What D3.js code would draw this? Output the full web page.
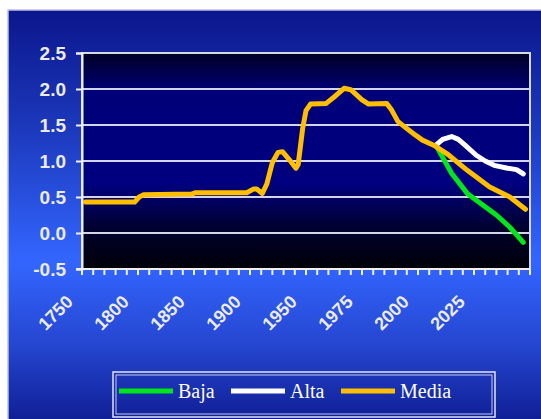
<!DOCTYPE html>
<html lang="es">
<head>
<meta charset="UTF-8">
<script src="https://cdn.jsdelivr.net/npm/d3@7"></script>
<style>
  body { margin: 0; background: #fff; }
  svg { display: block; }
  .ylab, .xlab { font-family: Arial, "Liberation Sans", sans-serif; font-weight: bold; fill: #ececec; }
  .leg { font-family: "Times New Roman", "Liberation Serif", serif; fill: #fff; font-size: 20px; }
</style>
</head>
<body>
<div id="chart"></div>
<script>
// tick labels (category axis, evenly spaced)
const xLabels = [1750, 1800, 1850, 1900, 1950, 1975, 2000, 2025];
const yTicks = [-0.5, 0.0, 0.5, 1.0, 1.5, 2.0, 2.5];

// series: [year, value]
const media = [
  [1753, 0.43], [1797, 0.43], [1801, 0.50], [1805, 0.53], [1848, 0.54], [1851, 0.56],
  [1897, 0.56], [1903, 0.61], [1906, 0.61], [1911, 0.55], [1915, 0.68], [1920, 0.98],
  [1925, 1.12], [1929, 1.13], [1935, 1.02], [1941, 0.90], [1943, 0.95], [1947, 1.45],
  [1950, 1.70], [1952, 1.79], [1959, 1.80], [1963, 1.90], [1967, 2.01], [1970, 1.99],
  [1975, 1.85], [1978, 1.79], [1986, 1.80], [1988, 1.72], [1991, 1.55], [1995, 1.45],
  [1998, 1.38], [2002, 1.29], [2007, 1.22], [2013, 1.10], [2022, 0.87], [2032, 0.64],
  [2041, 0.50], [2048, 0.33]
];
const alta = [
  [2008, 1.22], [2011, 1.30], [2015, 1.34], [2018, 1.30], [2021, 1.22], [2026, 1.08],
  [2030, 1.00], [2034, 0.94], [2040, 0.90], [2044, 0.88], [2047, 0.82]
];
const baja = [
  [2008, 1.22], [2011, 1.05], [2015, 0.83], [2022, 0.55], [2028, 0.41], [2035, 0.25],
  [2041, 0.08], [2047, -0.13]
];

const W = 541, H = 419;
const plot = { left: 82, right: 530, top: 53, bottom: 269 };

const svg = d3.select("#chart").append("svg")
  .attr("width", W).attr("height", H);

const defs = svg.append("defs");
const outerGrad = defs.append("linearGradient").attr("id", "outerGrad")
  .attr("x1", 0).attr("y1", 0).attr("x2", 0).attr("y2", 1);
[[0, "#0b168c"], [0.3, "#1d3bbf"], [0.6, "#3366ff"], [0.8, "#2546d0"], [1, "#0d1a8e"]]
  .forEach(s => outerGrad.append("stop").attr("offset", s[0]).attr("stop-color", s[1]));

const plotGrad = defs.append("linearGradient").attr("id", "plotGrad")
  .attr("x1", 0).attr("y1", 0).attr("x2", 0).attr("y2", 1);
[[0, "#000024"], [0.18, "#000078"], [0.6, "#000080"], [0.82, "#00002c"], [1, "#000008"]]
  .forEach(s => plotGrad.append("stop").attr("offset", s[0]).attr("stop-color", s[1]));

// chart background
svg.append("rect").attr("x", 8).attr("y", 10).attr("width", W).attr("height", H)
  .attr("fill", "url(#outerGrad)").attr("stroke", "#b8c0e8").attr("stroke-width", 1.5);

// x scale: categories evenly spaced, so piecewise linear over years
const xDomain = xLabels.concat([2050]);
const x = d3.scaleLinear()
  .domain(xDomain)
  .range(xDomain.map((d, i) => plot.left + i * (plot.right - plot.left) / (xDomain.length - 1)));

const y = d3.scaleLinear().domain([-0.5, 2.5]).range([plot.bottom, plot.top]);

svg.append("rect")
  .attr("x", plot.left).attr("y", plot.top)
  .attr("width", plot.right - plot.left).attr("height", plot.bottom - plot.top)
  .attr("fill", "url(#plotGrad)");

// gridlines
svg.append("g").selectAll("line").data(yTicks.filter(d => d > -0.5 && d < 2.5)).join("line")
  .attr("x1", plot.left).attr("x2", plot.right)
  .attr("y1", d => y(d)).attr("y2", d => y(d))
  .attr("stroke", "#d4d4e8").attr("stroke-width", 2);

svg.append("rect")
  .attr("x", plot.left).attr("y", plot.top)
  .attr("width", plot.right - plot.left).attr("height", plot.bottom - plot.top)
  .attr("fill", "none").attr("stroke", "#d8d8e4").attr("stroke-width", 2);

// y axis
const yAxis = svg.append("g").attr("transform", `translate(${plot.left},0)`)
  .call(d3.axisLeft(y).tickValues(yTicks).tickSize(6).tickPadding(10).tickFormat(d3.format(".1f")));
yAxis.select(".domain").attr("stroke", "#f0f0f0").attr("stroke-width", 2);
yAxis.selectAll(".tick line").attr("stroke", "#f0f0f0").attr("stroke-width", 2);
yAxis.selectAll(".tick text").attr("class", "ylab").attr("font-size", 19)
  .text(d => d < 0 ? "-" + Math.abs(d).toFixed(1) : d.toFixed(1));

// x axis: 40 minor ticks along the category axis
const nTicks = 40;
const tickX = d3.range(nTicks + 1).map(i => plot.left + i * (plot.right - plot.left) / nTicks);
const xAxis = svg.append("g");
xAxis.append("line")
  .attr("x1", plot.left - 6).attr("x2", plot.right)
  .attr("y1", plot.bottom).attr("y2", plot.bottom)
  .attr("stroke", "#f0f0f0").attr("stroke-width", 2);
xAxis.selectAll("line.tk").data(tickX).join("line").attr("class", "tk")
  .attr("x1", d => d).attr("x2", d => d)
  .attr("y1", plot.bottom).attr("y2", plot.bottom + 6)
  .attr("stroke", "#f0f0f0").attr("stroke-width", 2);
xAxis.selectAll("text").data(xLabels).join("text")
  .attr("class", "xlab").attr("font-size", 18)
  .attr("text-anchor", "end")
  .attr("transform", d => `translate(${x(d) - 8},${plot.bottom + 34}) rotate(-45)`)
  .text(d => d);

// series lines
const line = d3.line().x(d => x(d[0])).y(d => y(d[1]));
const series = [
  { name: "Baja", data: baja, color: "#00e61a" },
  { name: "Alta", data: alta, color: "#ffffff" },
  { name: "Media", data: media, color: "#ffbf00" }
];
svg.append("g").selectAll("path").data(series).join("path")
  .attr("d", d => line(d.data))
  .attr("fill", "none")
  .attr("stroke", d => d.color)
  .attr("stroke-width", 5)
  .attr("stroke-linejoin", "round")
  .attr("stroke-linecap", "round");

// legend
const leg = svg.append("g");
leg.append("rect").attr("x", 113).attr("y", 372).attr("width", 382).attr("height", 45)
  .attr("fill", "none").attr("stroke", "#e4e4f0").attr("stroke-width", 1.5);
leg.append("rect").attr("x", 116).attr("y", 375).attr("width", 376).attr("height", 39)
  .attr("fill", "none").attr("stroke", "#c8cce8").attr("stroke-width", 1);
const legX = [119, 231, 341];
series.forEach((s, i) => {
  leg.append("line")
    .attr("x1", legX[i]).attr("x2", legX[i] + 54)
    .attr("y1", 391).attr("y2", 391)
    .attr("stroke", s.color).attr("stroke-width", 5);
  leg.append("text").attr("class", "leg")
    .attr("x", legX[i] + 59).attr("y", 398)
    .text(s.name);
});
</script>
</body>
</html>
